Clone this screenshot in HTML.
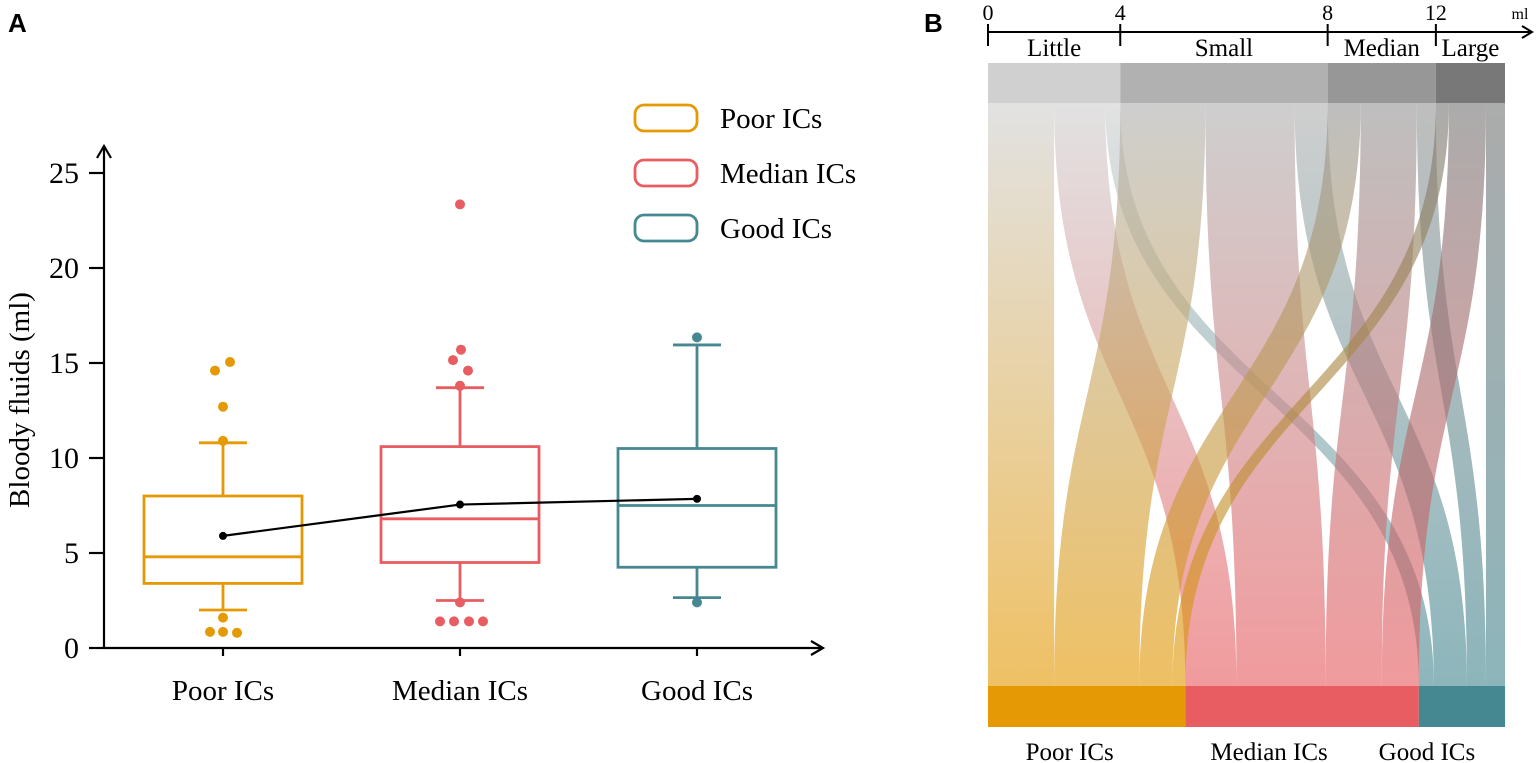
<!DOCTYPE html>
<html><head><meta charset="utf-8"><style>
body{margin:0;background:#fff;}
svg{display:block;font-family:"Liberation Serif",serif;}
</style></head><body>
<svg id="c" width="1536" height="763" viewBox="0 0 1536 763">
<defs id="defs"></defs>
<text x="8" y="32" font-family="Liberation Sans,sans-serif" font-weight="bold" font-size="26">A</text>
<text x="924" y="32" font-family="Liberation Sans,sans-serif" font-weight="bold" font-size="26">B</text>
<g id="pa"></g>
<g id="pb"></g>
</svg>
<script>
// ---------- Panel A data ----------
const groups = ["Poor ICs","Median ICs","Good ICs"];
const colors = ["#e59a05","#e85d61","#468891"];
const q1 = [3.4, 4.5, 4.25];
const medians = [4.8, 6.8, 7.5];
const q3 = [8.0, 10.6, 10.5];
const whiskLo = [2.0, 2.5, 2.65];
const whiskHi = [10.8, 13.7, 15.95];
const means = [5.9, 7.55, 7.85];
const outlierVals = [[0.85,0.8,0.85,1.6,10.9,12.7,14.6,15.05],[23.35,15.7,15.15,14.6,13.8,2.4,1.4,1.4,1.4,1.4],[16.35,2.4]];
const outlierJitter = [[-13,14,0,0,0,0,-8,7],[0,1,-7,8,0,0,-20,-6,9,23],[0,0]];
const yTicks = [0,5,10,15,20,25];

const NS="http://www.w3.org/2000/svg";
function mk(tag,attrs,parent){const e=document.createElementNS(NS,tag);for(const k in attrs)e.setAttribute(k,attrs[k]);parent.appendChild(e);return e;}
const pa=document.getElementById('pa');
const y=v=>648-v*19.0;
const x=i=>223+i*237;

let e;
e=mk('path',{d:'M104 648 V148 M97 158 L104 146 L111 158',stroke:'#000','stroke-width':2.2,fill:'none'},pa);


e=mk('path',{d:'M104 648 H823 M811 641 L823 648 L811 655',stroke:'#000','stroke-width':2.2,fill:'none'},pa);


yTicks.forEach(t=>{
  e=mk('line',{x1:89,x2:104,y1:y(t),y2:y(t),stroke:'#000','stroke-width':2.2},pa);
  
  
  e=mk('text',{x:79,y:y(t)+10,'text-anchor':'end','font-size':30},pa);e.textContent=t;
  
  
});
e=mk('text',{x:0,y:0,'font-size':29,'text-anchor':'middle',transform:'translate(29,400) rotate(-90)'},pa);e.textContent='Bloody fluids (ml)';


groups.forEach((g,i)=>{
  const cx=x(i),c=colors[i];
  e=mk('line',{x1:cx,x2:cx,y1:648,y2:656,stroke:'#000','stroke-width':2.2},pa);
  
  
  e=mk('text',{x:cx,y:700,'text-anchor':'middle','font-size':29},pa);e.textContent=g;
  
  
  const grp=mk('g',{},pa);
  
  
  mk('path',{d:`M${cx} ${y(whiskLo[i])} V${y(q1[i])} M${cx} ${y(q3[i])} V${y(whiskHi[i])} M${cx-24} ${y(whiskLo[i])} H${cx+24} M${cx-24} ${y(whiskHi[i])} H${cx+24}`,stroke:c,'stroke-width':2.8,fill:'none'},grp);
  mk('rect',{x:cx-79,y:y(q3[i]),width:158,height:y(q1[i])-y(q3[i]),stroke:c,'stroke-width':2.8,fill:'none'},grp);
  mk('line',{x1:cx-79,x2:cx+79,y1:y(medians[i]),y2:y(medians[i]),stroke:c,'stroke-width':2.8},grp);
  outlierVals[i].forEach((v,j)=>{
    e=mk('circle',{cx:cx+outlierJitter[i][j],cy:y(v),r:5,fill:c},grp);
    
    
  });
});
e=mk('polyline',{points:means.map((m,i)=>x(i)+','+y(m)).join(' '),stroke:'#000','stroke-width':2.2,fill:'none'},pa);


means.forEach((m,i)=>{e=mk('circle',{cx:x(i),cy:y(m),r:4,fill:'#000'},pa);
  
  });
groups.forEach((g,i)=>{
  const ly=105+i*55;
  e=mk('rect',{x:635,y:ly,width:62,height:26,rx:9,stroke:colors[i],'stroke-width':2.8,fill:'none'},pa);
  
  
  e=mk('text',{x:720,y:ly+23,'font-size':29},pa);e.textContent=g;
  
  
});

// ---------- Panel B data ----------
const sources = ["Little","Small","Median","Large"];
const srcTicks = ["0","4","8","12"];
const srcGrays = ["#d0d0d0","#b1b1b1","#979797","#787878"];
const targets = ["Poor ICs","Median ICs","Good ICs"];
const flowLittle = [66,51,15];
const flowSmall = [85,89,33];
const flowMedian = [33,56,19];
const flowLarge = [13,37,19];
const flows=[flowLittle,flowSmall,flowMedian,flowLarge];

const pb=document.getElementById('pb'), defs=document.getElementById('defs');
const X0=988,X1=1505,TOP0=63,TOP1=103,BOT0=686,BOT1=727;
const total=flows.flat().reduce((a,b)=>a+b,0);
const sc=(X1-X0)/total;
const srcTot=flows.map(r=>r.reduce((a,b)=>a+b,0));
const tgtTot=targets.map((_,j)=>flows.reduce((a,r)=>a+r[j],0));
const srcStart=[];let acc=X0;srcTot.forEach(t=>{srcStart.push(acc);acc+=t*sc;});
const tgtStart=[];acc=X0;tgtTot.forEach(t=>{tgtStart.push(acc);acc+=t*sc;});
const labelShift=[-17,-33,-35];
// axis
e=mk('path',{d:`M${X0} 32 H1532 M1522 26 L1532 32 L1522 38`,stroke:'#000','stroke-width':2,fill:'none'},pb);


sources.forEach((s,i)=>{
  const sx=srcStart[i];
  e=mk('line',{x1:sx,x2:sx,y1:24,y2:46,stroke:'#000','stroke-width':2},pb);
  
  
  e=mk('text',{x:sx,y:20,'text-anchor':'middle','font-size':22},pb);e.textContent=srcTicks[i];
  
  
  e=mk('text',{x:sx+srcTot[i]*sc/2,y:56,'text-anchor':'middle','font-size':25},pb);e.textContent=s;
  
  
});
e=mk('text',{x:1520,y:19,'text-anchor':'middle','font-size':16},pb);e.textContent='ml';


// ribbons
const tgtCursor=tgtStart.slice();
flows.forEach((row,i)=>{
  let sCur=srcStart[i];
  row.forEach((v,j)=>{
    const w=v*sc;
    const gid='g'+i+'_'+j;
    const lg=mk('linearGradient',{id:gid,x1:0,y1:0,x2:0,y2:1},defs);
    mk('stop',{offset:0,'stop-color':srcGrays[i]},lg);
    mk('stop',{offset:1,'stop-color':colors[j]},lg);
    const a=sCur,b=sCur+w,c=tgtCursor[j],d=tgtCursor[j]+w,ym=(TOP1+BOT0)/2;
    e=mk('path',{d:`M${a} ${TOP1} C${a} ${ym} ${c} ${ym} ${c} ${BOT0} L${d} ${BOT0} C${d} ${ym} ${b} ${ym} ${b} ${TOP1} Z`,fill:`url(#${gid})`,'fill-opacity':0.62},pb);
    
    
    sCur+=w;tgtCursor[j]+=w;
  });
});
sources.forEach((s,i)=>{
  e=mk('rect',{x:srcStart[i],y:TOP0,width:srcTot[i]*sc,height:TOP1-TOP0,fill:srcGrays[i]},pb);
  
  
});
targets.forEach((t,j)=>{
  e=mk('rect',{x:tgtStart[j],y:BOT0,width:tgtTot[j]*sc,height:BOT1-BOT0,fill:colors[j]},pb);
  
  
  e=mk('text',{x:tgtStart[j]+tgtTot[j]*sc/2+labelShift[j],y:760,'text-anchor':'middle','font-size':25},pb);e.textContent=t;
  
  
});
</script>
</body></html>
